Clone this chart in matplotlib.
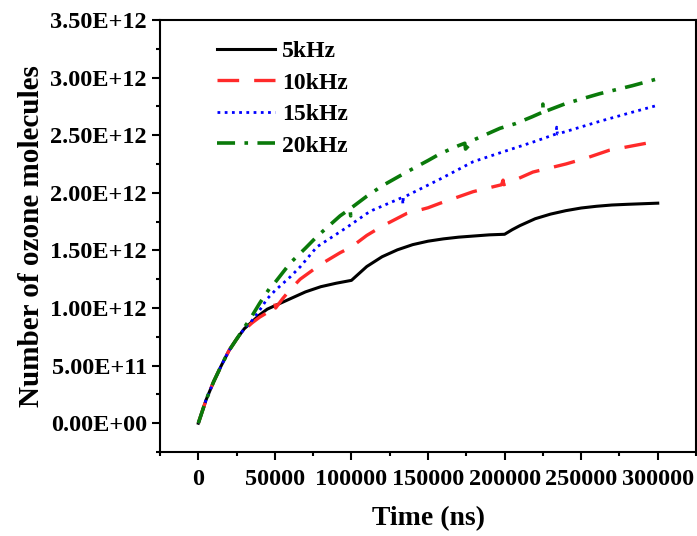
import matplotlib
matplotlib.use("Agg")
import matplotlib.pyplot as plt
from matplotlib.ticker import MultipleLocator, FormatStrFormatter, FuncFormatter

plt.rcParams['font.family'] = ['Liberation Serif', 'DejaVu Serif']
plt.rcParams['font.weight'] = 'bold'

# time in ns, values in units of 1e12 molecules
t_5 = [0, 5000, 10000, 15000, 20000, 25000, 30000, 35000, 40000, 45000, 50000,
       60000, 70000, 80000, 90000, 100000, 105000, 110000, 120000, 130000,
       140000, 150000, 160000, 170000, 180000, 190000, 200000, 205000, 210000,
       220000, 230000, 240000, 250000, 260000, 270000, 280000, 290000, 300000]
v_5 = [0, 0.20, 0.36, 0.50, 0.63, 0.73, 0.82, 0.88, 0.94, 0.99, 1.02,
       1.08, 1.14, 1.185, 1.215, 1.24, 1.30, 1.36, 1.445, 1.505,
       1.55, 1.58, 1.60, 1.615, 1.625, 1.635, 1.64, 1.68, 1.715,
       1.775, 1.815, 1.845, 1.868, 1.883, 1.894, 1.90, 1.905, 1.91]

t_10 = [0, 5000, 10000, 15000, 20000, 25000, 30000, 35000, 40000, 45000, 49000,
        50000, 50500, 55000, 60000, 66500, 80000, 92600, 100000, 110000, 120000,
        136000, 150000, 158000, 179500, 198000, 199000, 199500, 210000, 218500,
        240000, 253000, 268500, 292500, 300000]
v_10 = [0, 0.20, 0.36, 0.50, 0.63, 0.73, 0.81, 0.87, 0.92, 0.96, 0.99,
        1.04, 1.00, 1.08, 1.16, 1.25, 1.38, 1.48, 1.53, 1.63, 1.71,
        1.82, 1.87, 1.91, 2.01, 2.07, 2.11, 2.07, 2.13, 2.18,
        2.25, 2.30, 2.37, 2.43, 2.45]

t_15 = [0, 5000, 10000, 15000, 20000, 25000, 30000, 35000, 40000, 45000, 50000,
        60000, 66700, 77400, 97000, 110000, 114000, 133300, 133600, 133900,
        158000, 179500, 200000, 218500, 233500, 234000, 234500, 262000,
        283500, 300000]
v_15 = [0, 0.20, 0.36, 0.50, 0.63, 0.73, 0.82, 0.89, 0.98, 1.08, 1.15,
        1.27, 1.36, 1.53, 1.70, 1.82, 1.85, 1.96, 1.90, 1.96,
        2.12, 2.27, 2.36, 2.44, 2.51, 2.57, 2.51, 2.62,
        2.70, 2.76]

t_20 = [0, 5000, 10000, 15000, 20000, 25000, 30000, 35000, 40000, 47000, 50000,
        60000, 70000, 77400, 85000, 92600, 99000, 99500, 100000, 110000, 120000,
        136000, 150000, 158000, 170000, 174000, 174500, 180000, 197000, 207000,
        218000, 224800, 225000, 225200, 240000, 262000, 283500, 300000]
v_20 = [0, 0.20, 0.36, 0.50, 0.63, 0.73, 0.83, 0.93, 1.04, 1.18, 1.22,
        1.39, 1.52, 1.62, 1.71, 1.80, 1.86, 1.80, 1.87, 1.97, 2.06,
        2.18, 2.28, 2.34, 2.41, 2.43, 2.38, 2.46, 2.56, 2.60,
        2.66, 2.70, 2.77, 2.70, 2.775, 2.86, 2.93, 2.99]

labels = ['5kHz', '10kHz', '15kHz', '20kHz']

fig = plt.figure(figsize=(6.97, 5.36), dpi=100)
ax = fig.add_axes([0.2296, 0.1567, 0.769, 0.806])

sc = 1e12
ax.plot(t_5, [v * sc for v in v_5], color='black', lw=2.2, label=labels[0])
ax.plot(t_10, [v * sc for v in v_10], color='#ff2a2a', lw=2.4,
        linestyle=(0, (6.5, 4.5)), label=labels[1])
ax.plot(t_15, [v * sc for v in v_15], color='#0000ff', lw=2.0,
        linestyle=(0, (1, 1.6)), label=labels[2])
ax.plot(t_20, [v * sc for v in v_20], color='#0a7a0a', lw=2.6,
        linestyle=(0, (5, 2.6, 1, 2.6)), label=labels[3])

ax.set_xlim(-25000, 325000)
ax.set_ylim(-0.25e12, 3.5e12)
ax.xaxis.set_major_locator(MultipleLocator(50000))
ax.xaxis.set_minor_locator(MultipleLocator(25000))
ax.yaxis.set_major_locator(MultipleLocator(0.5e12))
ax.yaxis.set_minor_locator(MultipleLocator(0.25e12))
ax.xaxis.set_major_formatter(FormatStrFormatter('%d'))


def sci(v, pos):
    if abs(v) < 1:
        return '0.00E+00'
    return '%.2E' % v


ax.yaxis.set_major_formatter(FuncFormatter(sci))

ax.tick_params(which='major', direction='out', length=6, width=1.5,
               labelsize=17.5, top=False, right=False)
ax.tick_params(axis='x', which='major', pad=6)
ax.tick_params(which='minor', direction='out', length=3, width=1.5,
               top=False, right=False)
for lab in ax.get_xticklabels() + ax.get_yticklabels():
    lab.set_fontweight('bold')
for s in ax.spines.values():
    s.set_linewidth(1.5)

ax.set_xlabel('Time (ns)', fontsize=20, fontweight='bold', labelpad=12)
ax.set_ylabel('Number of ozone molecules', fontsize=21, fontweight='bold',
              labelpad=4)

ax.legend(loc='upper left', bbox_to_anchor=(0.08, 0.985), frameon=False,
          handlelength=2.45, handletextpad=0.3, labelspacing=0.42,
          borderaxespad=0.2, prop={'weight': 'bold', 'size': 17})

fig.savefig('out.png', dpi=100)
